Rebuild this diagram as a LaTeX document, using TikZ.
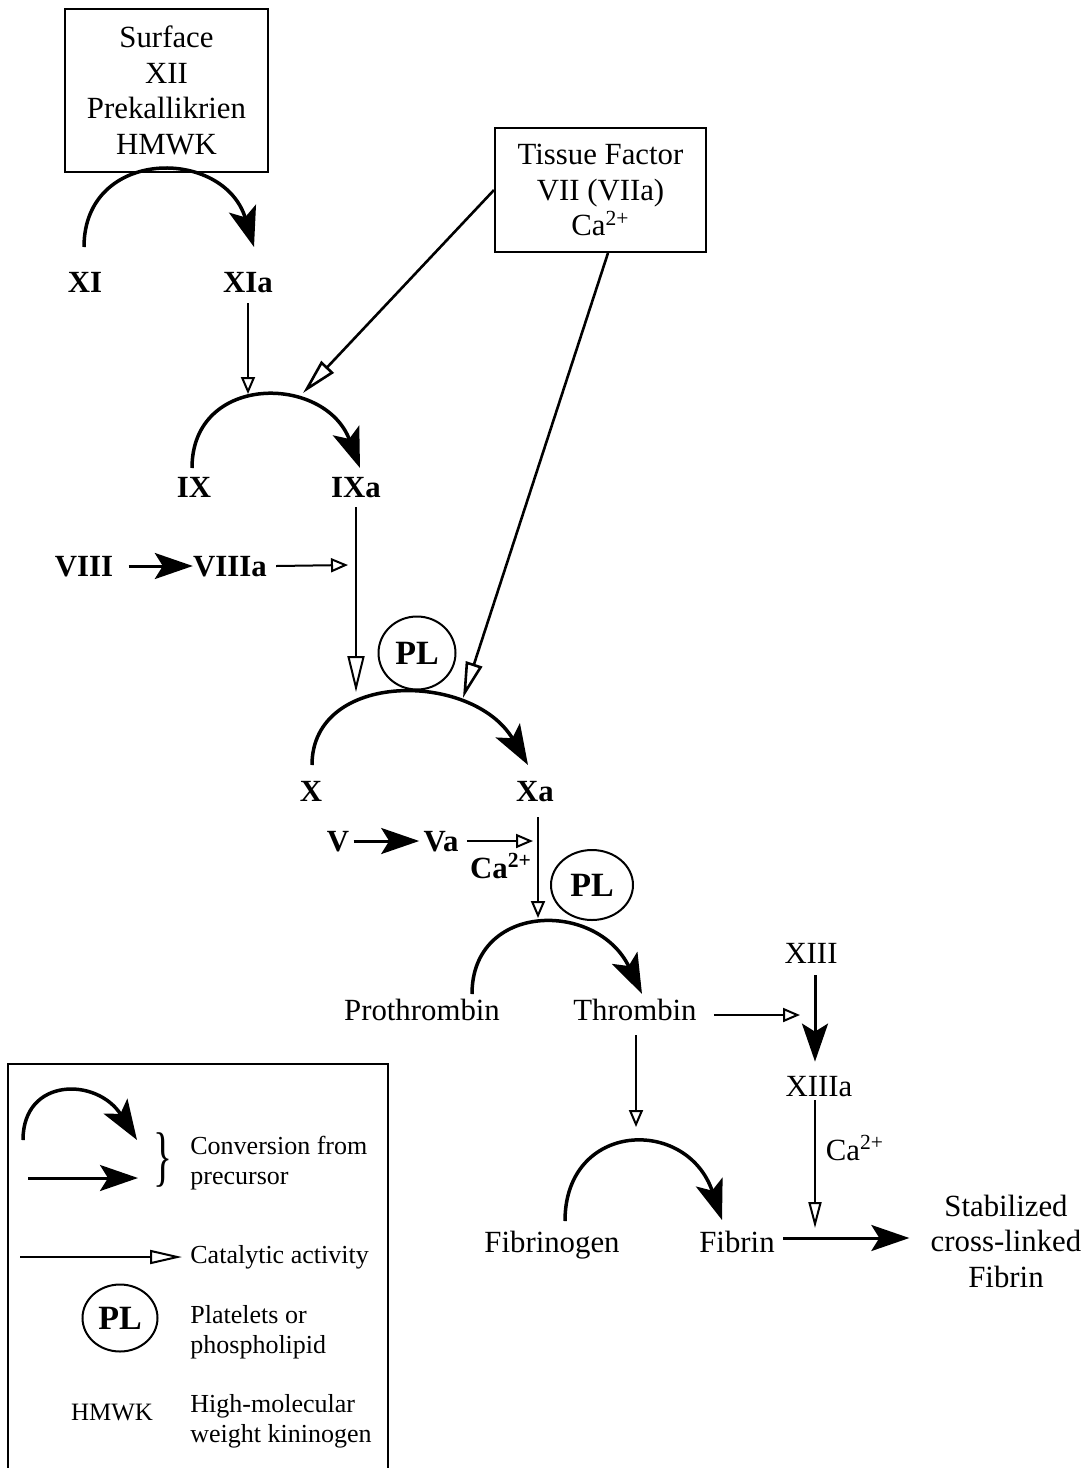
\documentclass[tikz,border=0pt]{standalone}
\usepackage{fontspec}
\setmainfont{Liberation Serif}
\usetikzlibrary{arrows.meta, shapes.geometric}

\begin{document}
\begin{tikzpicture}[x=0.5pt, y=-0.5pt,
    lbl/.style={font=\fontsize{15.4}{17.75}\selectfont, inner sep=2pt, text height=10pt, text depth=0pt},
    blbl/.style={lbl, font=\fontsize{15.4}{17.75}\selectfont\bfseries},
    factorbox/.style={draw, line width=1pt, align=center, inner sep=0pt, font=\fontsize{15.4}{17.75}\selectfont},
    plnode/.style={draw, ellipse, line width=1pt, inner sep=0pt, font=\fontsize{17}{20}\selectfont\bfseries},
    legtext/.style={font=\fontsize{13}{15}\selectfont, align=left, anchor=west, inner sep=2pt},
    conv/.style={line width=1.75pt, -{Stealth[length=20pt, width=14pt, inset=4.5pt]}},
    convline/.style={line width=1.5pt, -{Stealth[length=19pt, width=13pt, inset=4pt]}},
    cat/.style={line width=1pt, -{Triangle[open, length=8.5pt, width=7pt]}},
    catlong/.style={line width=1.3pt, -{Triangle[open, length=18pt, width=8.5pt]}}]

    \useasboundingbox (0,0) rectangle (1088,1468);

    % draw starting complexes
    \node[factorbox, minimum width=101.5pt, minimum height=81.5pt] (sfc) at (166.5,90.5)
      {Surface\\XII\\Prekallikrien\\HMWK};
    \node[factorbox, minimum width=105.5pt, minimum height=62pt] (tf) at (600.5,190)
      {Tissue Factor\\VII (VIIa)\\Ca\textsuperscript{2+}};

    % draw factors
    \node[blbl] (XI) at (85,282) {XI};
    \node[blbl] (XIa) at (248,282) {XIa};
    \node[blbl] (IX) at (194,487) {IX};
    \node[blbl] (IXa) at (356,487) {IXa};
    \node[blbl] (VIII) at (84,566) {VIII};
    \node[blbl] (VIIIa) at (230,566) {VIIIa};
    \node[blbl] (X) at (311,791) {X};
    \node[blbl] (Xa) at (535,791) {Xa};
    \node[blbl] (V) at (338,841) {V};
    \node[blbl] (Va) at (441,841) {Va};
    \node[blbl] (caA) at (501,868) {Ca\textsuperscript{2+}};
    \node[lbl] (pro) at (422,1010) {Prothrombin};
    \node[lbl] (thr) at (635,1010) {Thrombin};
    \node[lbl] (XIII) at (811,953) {XIII};
    \node[lbl] (XIIIa) at (819,1086) {XIIIa};
    \node[lbl] (caB) at (855,1150) {Ca\textsuperscript{2+}};
    \node[lbl] (fbg) at (552,1242) {Fibrinogen};
    \node[lbl] (fbn) at (737,1242) {Fibrin};
    \node[lbl, align=center, text height=, text depth=] (scf) at (1006,1241)
      {Stabilized\\cross-linked\\Fibrin};

    % draw platelets
    \node[plnode, minimum width=38.5pt, minimum height=36.5pt] (PLa) at (417,653) {PL};
    \node[plnode, minimum width=41pt, minimum height=35pt] (PLb) at (592,885) {PL};

    % points where catalysts meet a conversion
    \coordinate (aIX1) at (248,394);
    \coordinate (aIX2) at (303,393);
    \coordinate (aVIII) at (348,565);
    \coordinate (aX1) at (356,692);
    \coordinate (aX2) at (463,698);
    \coordinate (aXa) at (533,841);
    \coordinate (aPro) at (538,918);
    \coordinate (aXIII) at (800,1015);
    \coordinate (aFbg) at (636,1127);
    \coordinate (aFbn) at (815,1228);

    % draw conversion arcs
    \draw[conv] ([shift={(-1,-35)}]XI.center) .. controls +(0,-100) and +(-30,-100) .. ([shift={(6,-35)}]XIa.center);
    \draw[conv] ([shift={(-2,-19)}]IX.center) .. controls +(0,-95) and +(-35,-94) .. ([shift={(4,-19)}]IXa.center);
    \draw[conv] ([shift={(1,-26)}]X.center) .. controls +(0,-95) and +(-55,-94) .. ([shift={(-7,-26)}]Xa.center);
    \draw[conv] ([shift={(50,-16)}]pro.center) .. controls +(0,-92) and +(-45,-94) .. ([shift={(7,-16)}]thr.center);
    \draw[conv] ([shift={(13,-21)}]fbg.center) .. controls +(0,-100) and +(-35,-104) .. ([shift={(-15,-22)}]fbn.center);

    % draw straight conversions
    \draw[convline] ([xshift=5.5pt]VIII.east) -- ([xshift=2pt]VIIIa.west);
    \draw[convline] (V.east) -- (Va.west);
    \draw[convline] ([xshift=2pt, yshift=-4pt]XIII.south) -- ([xshift=-2pt, yshift=5pt]XIIIa.north);
    \draw[convline] ([xshift=2pt, yshift=2pt]fbn.east) -- ([xshift=-8.5pt, yshift=1.5pt]scf.west);

    % draw catalytic activity
    \draw[cat] ([yshift=-3.5pt]XIa.south) -- (aIX1);
    \draw[catlong] (tf.west) -- (aIX2);
    \draw[catlong] ([xshift=3.75pt]tf.south) -- (aX2);
    \draw[cat] ([xshift=2.5pt]VIIIa.east) -- (aVIII);
    \draw[catlong, line width=1pt] ([yshift=-3pt]IXa.south) -- (aX1);
    \draw[cat] ([xshift=2pt]Va.east) -- (aXa);
    \draw[cat] ([xshift=1.5pt, yshift=-6pt]Xa.south) -- (aPro);
    \draw[cat] ([xshift=6.5pt, yshift=-2.5pt]thr.east) -- (aXIII);
    \draw[cat] ([xshift=0.5pt, yshift=-5.5pt]thr.south) -- (aFbg);
    \draw[cat, -{Triangle[open, length=13pt, width=6.5pt]}] ([xshift=-2pt]XIIIa.south) -- (aFbn);

    % draw legend
    \draw[line width=1pt] (8,1468) -- (8,1064) -- (388,1064) -- (388,1468);
    \coordinate (lgA) at (23,1140);
    \coordinate (lgB) at (137,1140);
    \coordinate (lgC) at (28,1178);
    \coordinate (lgD) at (138,1178);
    \coordinate (lgE) at (20,1257);
    \coordinate (lgF) at (182,1257);
    \draw[conv] (lgA) .. controls +(0,-63) and +(-40,-63) .. (lgB);
    \draw[convline] (lgC) -- (lgD);
    \node[inner sep=0pt] (brc) at (163,1160) {\scalebox{0.6}[1]{\fontsize{33}{33}\selectfont\}}};
    \node[legtext] (lgconv) at (186,1163) {Conversion from\\precursor};
    \draw[cat, -{Triangle[open, length=16pt, width=7pt]}] (lgE) -- (lgF);
    \node[legtext] (lgcat) at (186,1257) {Catalytic activity};
    \node[plnode, minimum width=37.5pt, minimum height=33.5pt] (lgPL) at (120,1318) {PL};
    \node[legtext] (lgplt) at (186,1332) {Platelets or\\phospholipid};
    \node[font=\fontsize{12.5}{15}\selectfont] (lgHM) at (112,1412) {HMWK};
    \node[legtext] (lghm) at (186,1421) {High-molecular\\weight kininogen};
\end{tikzpicture}
\end{document}
